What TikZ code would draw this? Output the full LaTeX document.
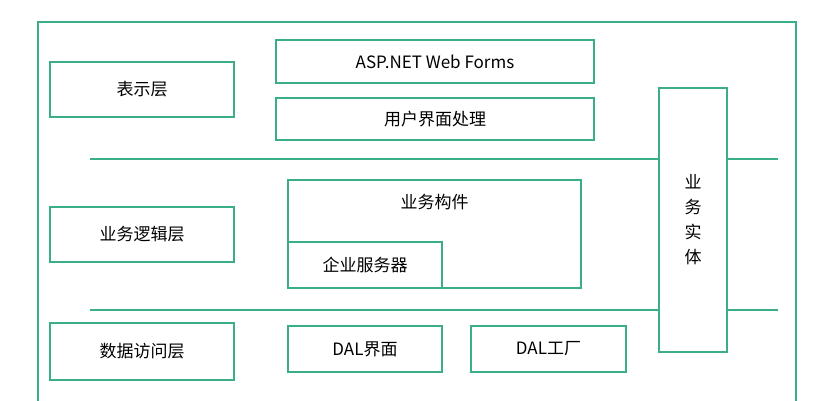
\documentclass[tikz,border=0pt]{standalone}
\usepackage{fontspec}
\setmainfont{Noto Sans CJK SC}
\definecolor{layergreen}{HTML}{3AAE85}

\begin{document}
\begin{tikzpicture}[x=1pt, y=-1pt, font=\fontsize{17}{20}\selectfont]
%% pixel coordinates of the reference, y grows downward
\tikzstyle{box}=[draw=layergreen, line width=2.5pt, fill=white, inner sep=0pt]
\tikzstyle{sep}=[draw=layergreen, line width=2.5pt]
\useasboundingbox (0,0) rectangle (831,400);
\draw[box] (38,22) rectangle (796,412);
%% separators between the layers
\coordinate (sepA1) at (90,159);
\coordinate (sepA2) at (778,159);
\coordinate (sepB1) at (90,310);
\coordinate (sepB2) at (778,310);
\draw[sep] (sepA1) -- (sepA2);
\draw[sep] (sepB1) -- (sepB2);
%% layer names
\node[box, minimum width=184, minimum height=55] at (142,89.5) (Presentation) {表示层};
\node[box, minimum width=184, minimum height=55] at (142,234.5) (Business) {业务逻辑层};
\node[box, minimum width=184, minimum height=57] at (142,351.5) (DataAccess) {数据访问层};
%% presentation layer
\node[box, minimum width=318, minimum height=43] at (435,61.5) (WebForms) {ASP.NET Web Forms};
\node[box, minimum width=318, minimum height=42] at (435,119) (UIProcess) {用户界面处理};
%% business layer
\draw[box] (288,180) rectangle (581,288);
\node at (434.5,202) (Components) {业务构件};
\node[box, minimum width=154, minimum height=46] at (365,265) (Services) {企业服务器};
%% data access layer
\node[box, minimum width=154, minimum height=46] at (365,349) (DALIface) {DAL界面};
\node[box, minimum width=155, minimum height=46] at (548.5,349) (DALFactory) {DAL工厂};
%% business entities
\node[box, minimum width=68, minimum height=264, align=center, font=\fontsize{17}{25}\selectfont] at (693,220) (Entities) {业\\务\\实\\体};
\end{tikzpicture}
\end{document}
